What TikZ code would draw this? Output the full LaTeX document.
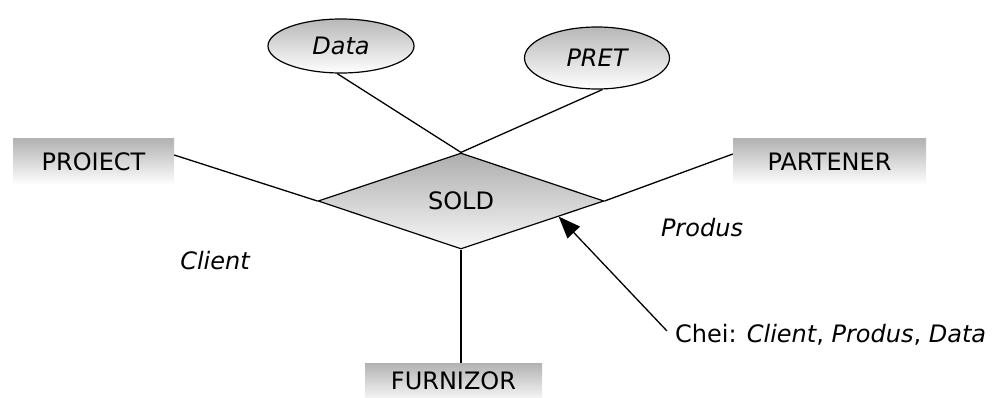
\documentclass[tikz,border=0pt]{standalone}
\usepackage{fontspec}
\setmainfont{DejaVu Sans}
\usetikzlibrary{shapes.geometric,arrows.meta,calc}
\begin{document}
\begin{tikzpicture}[x=1pt,y=-1pt,
  every node/.style={font=\fontsize{24}{28}\selectfont},
  entity/.style={rectangle, minimum height=46pt, inner sep=0pt,
    top color=black!30, bottom color=white, draw=none},
  attrib/.style={ellipse, draw, line width=1.2pt, inner sep=0pt,
    top color=black!28, bottom color=white},
  relation/.style={diamond, draw, line width=1.2pt, inner sep=0pt,
    top color=black!32, bottom color=white!97!black,
    minimum width=286pt, minimum height=96pt, aspect=2.98},
  link/.style={line width=1.3pt},
  role/.style={font=\fontsize{24}{28}\selectfont\itshape, inner sep=0pt}]
\useasboundingbox (0,0) rectangle (993,398);

% entities
\node[entity, minimum width=161pt] (proiect) at (93.5,162) {PROIECT};
\node[entity, minimum width=193pt] (partener) at (829.5,162) {PARTENER};
\node[entity, minimum width=177pt, minimum height=35pt, anchor=north,
  top color=black!30, bottom color=black!4] (furnizor) at (453.5,363)
  {\raisebox{-5pt}{FURNIZOR}};

% relationship
\node[relation] (sold) at (461,201) {SOLD};

% attributes
\node[attrib, minimum width=146pt, minimum height=54pt] (data) at (341,46) {\itshape Data};
\node[attrib, minimum width=145pt, minimum height=62pt] (pret) at (597,58) {\itshape PRET};

% connections
\draw[link] (data.-98) -- (sold.north);
\draw[link] (pret.-80) -- (sold.north);
\draw[link] (proiect.east |- 0,155) -- (sold.west);
\draw[link] (partener.west |- 0,154) -- (sold.east);
\draw[link] (sold.south) -- (sold.south |- furnizor.north);

% role labels
\node[role] (client) at (215,261) {Client};
\node[role] (produs) at (702,228) {Produs};

% key annotation
\node[inner sep=0pt, anchor=base west] (chei) at (675,342)
  {Chei: \textit{Client}, \textit{Produs}, \textit{Data}};
\coordinate (keyfoot) at (667,331);
\draw[link, -{Triangle[length=22pt,width=17pt]}] (keyfoot) -- ($(sold.east)!0.32!(sold.south)$);
\end{tikzpicture}
\end{document}
